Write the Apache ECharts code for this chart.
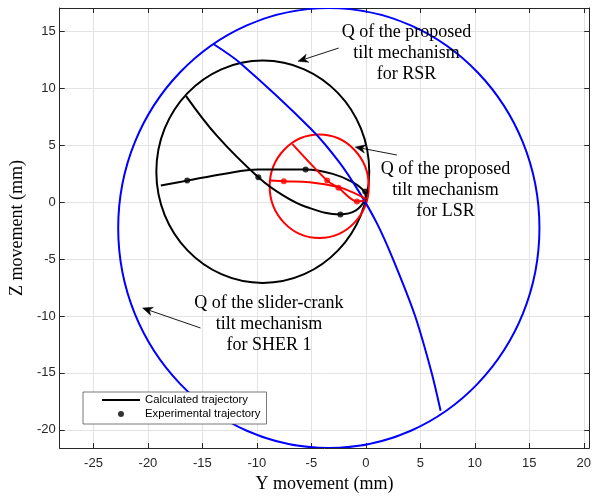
<!DOCTYPE html>
<html>
<head>
<meta charset="utf-8">
<script src="https://cdn.jsdelivr.net/npm/echarts@6/dist/echarts.min.js"></script>
<style>html,body{margin:0;padding:0;background:#fff}#c{width:594px;height:498px}</style>
</head>
<body>
<div id="c"></div>
<script>
// ---- data ----
var xTicks = [-25, -20, -15, -10, -5, 0, 5, 10, 15, 20];
var yTicks = [-20, -15, -10, -5, 0, 5, 10, 15];

// circles: [centerY, centerZ, radius]
var blueCircle = [[-3.4, -2.27, 19.33]];
var blackCircle = [[-9.46, 2.68, 9.77]];
var redCircle = [[-4.28, 1.40, 4.55]];

var blueCurve = [[-14.03, 13.93], [-11.54, 12.24], [-5.01, 6.42], [-2.43, 3.51], [-0.61, 0.89], [1.03, -1.88], [2.49, -5.0], [4.52, -10.0], [6.04, -15.0], [6.86, -18.33]];
var blackCurveA = [[-16.5, 9.33], [-13.66, 5.83], [-9.87, 2.2], [-7.6, 0.6], [-5.46, -0.42], [-2.34, -1.07], [-0.91, -0.72], [0.0, 0.3]];
var blackCurveB = [[-18.82, 1.47], [-16.4, 1.9], [-13.06, 2.49], [-9.87, 2.87], [-5.53, 2.87], [-3.04, 2.49], [-1.22, 1.76], [-0.12, 0.89], [0.0, 0.3]];
var redCurveC = [[-6.74, 5.11], [-3.55, 1.9], [-2.52, 1.27], [-0.82, 0.07], [-0.1, 0.15]];
var redCurveD = [[-8.8, 1.9], [-7.53, 1.85], [-5.16, 1.76], [-2.52, 1.33], [-0.91, 0.74], [0.0, 0.3]];

var blackDots = [[-16.4, 1.9], [-9.87, 2.2], [-5.53, 2.87], [-2.34, -1.07], [-0.06, 0.94]];
var redDots = [[-7.53, 1.85], [-3.55, 1.9], [-2.52, 1.27], [-0.82, 0.07]];

// annotations
var annotTexts = ['Q of the proposed\ntilt mechanism\nfor RSR', 'Q of the proposed\ntilt mechanism\nfor LSR', 'Q of the slider-crank\ntilt mechanism\nfor SHER 1'];
var annotAnchors = [[3.72, 13.12], [7.31, 1.09], [-8.9, -10.76]];
// arrows: [fromY, fromZ, tipY, tipZ]
var arrows = [[-2.50, 13.55, -6.23, 12.38], [2.85, 4.15, -0.97, 4.85], [-15.18, -11.05, -20.49, -9.30]];

var legendNames = ['Calculated trajectory', 'Experimental trajectory'];

// ---- chart ----
var chart = echarts.init(document.getElementById('c'), null, {renderer: 'canvas'});
var axisColor = '#262626';
var tickFont = {fontFamily: 'Liberation Sans, Arial, sans-serif', fontSize: 13, color: axisColor};

function circleSeries(data, color) {
  return {
    type: 'custom', coordinateSystem: 'cartesian2d', clip: true, silent: true, z: 2,
    encode: {x: 0, y: 1},
    data: data,
    renderItem: function (params, api) {
      var c = api.coord([api.value(0), api.value(1)]);
      var s = api.size([api.value(2), api.value(2)]);
      return {type: 'ellipse', shape: {cx: c[0], cy: c[1], rx: s[0], ry: s[1]},
        style: {fill: 'none', stroke: color, lineWidth: 2}};
    }
  };
}
function curveSeries(name, data, color, smooth) {
  return {
    name: name, type: 'line', data: data, symbol: 'none', showSymbol: false, smooth: smooth, z: 3,
    lineStyle: {color: color, width: 2}, itemStyle: {color: color}, silent: true
  };
}

var option = {
  animation: false,
  backgroundColor: '#fff',
  grid: {left: 58, top: 8, right: 2.3, bottom: 47, containLabel: false},
  xAxis: [{
    type: 'value', min: -28.1, max: 20.5, position: 'bottom',
    name: 'Y movement (mm)', nameLocation: 'middle', nameGap: 27,
    nameTextStyle: {fontFamily: 'Liberation Serif, Times New Roman, serif', fontSize: 18, color: '#000'},
    axisLine: {show: true, onZero: false, lineStyle: {color: axisColor, width: 1}},
    axisTick: {show: true, inside: true, length: 5, customValues: xTicks, lineStyle: {color: axisColor}},
    axisLabel: {show: true, margin: 9, customValues: xTicks, formatter: function (v) { return String(v); }, fontFamily: tickFont.fontFamily, fontSize: tickFont.fontSize, color: tickFont.color},
    splitLine: {show: true, lineStyle: {color: '#e3e3e3', width: 1}}
  }, {
    type: 'value', min: -28.1, max: 20.5, position: 'top',
    axisLine: {show: true, onZero: false, lineStyle: {color: axisColor, width: 1}},
    axisTick: {show: true, inside: true, length: 5, customValues: xTicks, lineStyle: {color: axisColor}},
    axisLabel: {show: false, customValues: xTicks}, splitLine: {show: false}
  }],
  yAxis: [{
    type: 'value', min: -21.6, max: 17.07, position: 'left',
    name: 'Z movement (mm)', nameLocation: 'middle', nameGap: 31,
    nameTextStyle: {fontFamily: 'Liberation Serif, Times New Roman, serif', fontSize: 18, color: '#000'},
    axisLine: {show: true, onZero: false, lineStyle: {color: axisColor, width: 1}},
    axisTick: {show: true, inside: true, length: 5, customValues: yTicks, lineStyle: {color: axisColor}},
    axisLabel: {show: true, margin: 4, customValues: yTicks, formatter: function (v) { return String(v); }, fontFamily: tickFont.fontFamily, fontSize: tickFont.fontSize, color: tickFont.color},
    splitLine: {show: true, lineStyle: {color: '#e3e3e3', width: 1}}
  }, {
    type: 'value', min: -21.6, max: 17.07, position: 'right',
    axisLine: {show: true, onZero: false, lineStyle: {color: axisColor, width: 1}},
    axisTick: {show: true, inside: true, length: 5, customValues: yTicks, lineStyle: {color: axisColor}},
    axisLabel: {show: false, customValues: yTicks}, splitLine: {show: false}
  }],
  legend: {
    left: 83, top: 392, orient: 'vertical',
    data: [{name: legendNames[0], icon: 'path://M0,0L38,0L38,2.2L0,2.2Z'}, {name: legendNames[1], icon: 'circle'}],
    itemWidth: 38, itemHeight: 6, itemGap: 3,
    padding: [2.5, 6, 4.5, 19],
    backgroundColor: '#fff', borderColor: '#555', borderWidth: 0.8, borderRadius: 0,
    selectedMode: false,
    textStyle: {fontFamily: 'Liberation Sans, Arial, sans-serif', fontSize: 11.3, color: '#000', padding: [0, 0, 0, 0]}
  },
  series: [
    curveSeries(legendNames[0], blackCurveA, '#000', 0.4),
    curveSeries('blackB', blackCurveB, '#000', 0.4),
    circleSeries(blueCircle, '#0000ff'),
    circleSeries(blackCircle, '#000000'),
    circleSeries(redCircle, '#ff0000'),
    curveSeries('blue', blueCurve, '#0000ff', 0.3),
    curveSeries('redC', redCurveC, '#ff0000', 0.3),
    curveSeries('redD', redCurveD, '#ff0000', 0.4),
    {name: legendNames[1], type: 'scatter', data: blackDots, symbol: 'circle', symbolSize: 6, z: 4, silent: true, itemStyle: {color: '#000'}},
    {name: 'redDots', type: 'scatter', data: redDots, symbol: 'circle', symbolSize: 6, z: 4, silent: true, itemStyle: {color: '#ff0000'}},
    {
      type: 'custom', coordinateSystem: 'cartesian2d', silent: true, z: 5, clip: false,
      data: arrows, encode: {x: [0, 2], y: [1, 3]},
      renderItem: function (params, api) {
        var p0 = api.coord([api.value(0), api.value(1)]);
        var p1 = api.coord([api.value(2), api.value(3)]);
        var dx = p1[0] - p0[0], dy = p1[1] - p0[1];
        var L = Math.sqrt(dx * dx + dy * dy); var ux = dx / L, uy = dy / L;
        var nx = -uy, ny = ux; var hl = 10, hw = 4.2, notch = 7;
        var back = [p1[0] - ux * hl, p1[1] - uy * hl];
        var mid = [p1[0] - ux * notch, p1[1] - uy * notch];
        return {type: 'group', children: [
          {type: 'line', shape: {x1: p0[0], y1: p0[1], x2: mid[0], y2: mid[1]}, style: {stroke: '#000', lineWidth: 0.9}},
          {type: 'polygon', shape: {points: [p1, [back[0] + nx * hw, back[1] + ny * hw], mid, [back[0] - nx * hw, back[1] - ny * hw]]}, style: {fill: '#000', stroke: '#000', lineWidth: 0.5}}
        ]};
      }
    },
    {
      type: 'custom', coordinateSystem: 'cartesian2d', silent: true, z: 5, clip: false,
      data: annotAnchors.map(function (a, i) { return {value: [a[0], a[1]], name: annotTexts[i]}; }),
      renderItem: function (params, api) {
        var c = api.coord([api.value(0), api.value(1)]);
        return {type: 'text', x: c[0], y: c[1], style: {
          text: annotTexts[params.dataIndex], align: 'center', verticalAlign: 'middle',
          fontFamily: 'Liberation Serif, Times New Roman, serif', fontSize: 18, lineHeight: 21, fill: '#000'}};
      }
    }
  ]
};
chart.setOption(option);
</script>
</body>
</html>
